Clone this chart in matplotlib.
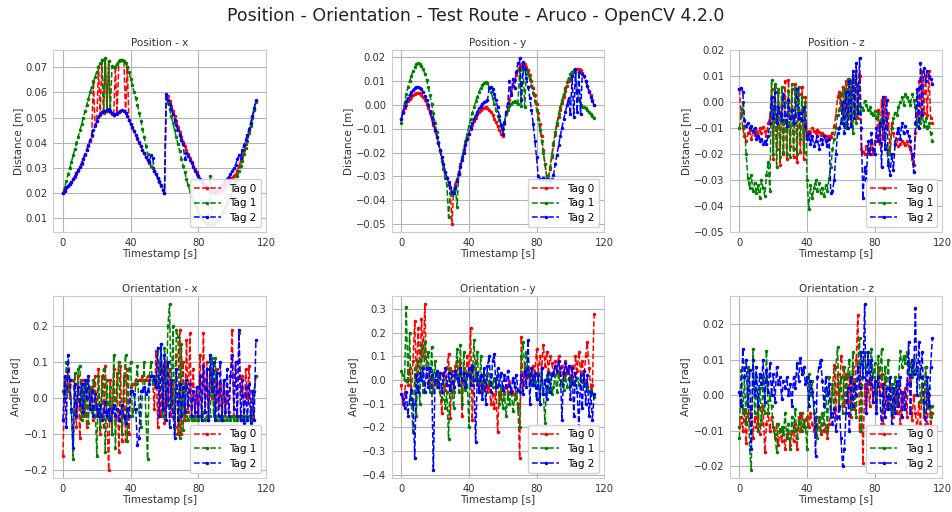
import numpy as np
import matplotlib.pyplot as plt

# one sample per second of the test route
timestamps = np.arange(0, 115)
tags = ["Tag 0", "Tag 1", "Tag 2"]
tag_colors = ["red", "green", "blue"]

# ---- position x [mm] ----
pos_x_tag0 = [
    20.0, 21.2, 22.0, 23.0, 23.8, 24.5, 25.5, 26.5, 27.8, 29.0,
    30.3, 31.8, 33.5, 35.3, 37.0, 38.8, 40.8, 42.8, 64.5, 46.8,
    48.6, 70.0, 51.0, 72.7, 52.0, 73.5, 52.6, 72.5, 52.2, 51.4,
    51.0, 70.3, 51.6, 72.3, 72.9, 73.0, 72.6, 52.0, 70.0, 49.0,
    47.3, 46.0, 44.6, 43.2, 41.6, 40.0, 38.6, 37.2, 35.8, 34.5,
    33.2, 32.0, 31.0, 30.0, 28.8, 27.5, 26.2, 24.6, 23.0, 21.4,
    20.0, 58.0, 58.5, 56.5, 54.5, 52.5, 50.5, 48.5, 46.5, 44.5,
    42.5, 40.5, 38.8, 37.0, 35.5, 34.0, 32.5, 31.0, 29.5, 28.3,
    27.0, 25.8, 24.7, 23.7, 22.8, 22.0, 21.3, 20.8, 20.4, 20.2,
    20.2, 20.3, 20.6, 21.0, 21.5, 22.0, 22.7, 23.5, 24.3, 25.2,
    26.2, 27.0, 27.8, 29.0, 30.8, 32.8, 35.0, 37.3, 39.7, 42.2,
    44.8, 47.5, 50.3, 53.2, 56.5]
pos_x_tag1 = [
    20.0, 22.5, 25.0, 27.5, 30.0, 32.5, 35.0, 37.5, 40.0, 42.5,
    45.0, 47.5, 50.0, 52.5, 55.0, 57.5, 60.0, 62.2, 64.3, 66.3,
    68.2, 70.0, 71.5, 72.7, 52.4, 73.5, 52.8, 72.5, 52.5, 70.5,
    70.0, 70.3, 71.3, 72.3, 72.9, 73.0, 72.6, 71.6, 70.0, 68.0,
    65.5, 63.0, 60.3, 57.8, 55.0, 52.0, 48.8, 45.5, 42.2, 38.8,
    35.5, 32.8, 31.0, 30.0, 28.8, 27.5, 26.0, 24.5, 23.0, 21.5,
    20.3, 58.5, 56.0, 53.3, 50.6, 47.8, 45.0, 42.2, 39.4, 36.6,
    33.8, 31.0, 28.3, 25.7, 23.2, 21.0, 19.0, 17.2, 15.5, 14.0,
    12.6, 11.4, 10.3, 9.4, 8.7, 8.2, 7.9, 27.0, 7.8, 8.0,
    8.4, 9.0, 9.8, 10.8, 12.0, 13.3, 14.7, 16.2, 17.8, 19.5,
    21.2, 23.0, 24.8, 26.7, 28.7, 30.8, 33.0, 35.5, 38.0, 40.8,
    43.8, 46.8, 49.8, 53.0, 56.3]
pos_x_tag2 = [
    20.0, 21.0, 22.3, 23.0, 23.6, 24.4, 25.6, 26.8, 28.0, 29.3,
    30.3, 32.0, 33.8, 35.5, 37.2, 39.0, 41.0, 43.0, 45.0, 47.0,
    48.8, 50.3, 51.4, 52.2, 52.5, 52.6, 53.2, 53.5, 52.6, 51.8,
    51.0, 51.3, 51.8, 52.3, 52.8, 53.0, 52.6, 52.0, 50.8, 49.2,
    47.5, 46.2, 44.8, 43.3, 41.8, 40.2, 38.8, 37.3, 35.8, 34.5,
    33.2, 32.5, 35.0, 34.2, 28.8, 27.6, 26.2, 24.8, 23.2, 21.5,
    20.0, 59.5, 57.2, 55.5, 53.5, 51.5, 49.2, 47.0, 45.0, 43.0,
    41.0, 39.5, 33.5, 35.8, 34.8, 33.4, 32.0, 30.6, 29.0, 27.8,
    26.7, 25.5, 24.5, 23.5, 22.8, 22.2, 21.7, 21.3, 21.0, 21.0,
    21.2, 21.5, 22.0, 22.6, 23.3, 24.0, 24.8, 25.8, 26.5, 27.5,
    28.7, 30.0, 31.2, 33.5, 35.0, 34.2, 37.3, 39.2, 41.2, 43.3,
    45.5, 48.0, 50.8, 53.8, 57.0]

# ---- position y [mm] ----
pos_y_tag0 = [
    -6.0, -3.5, -1.5, 0.0, 1.5, 2.5, 3.3, 4.0, 4.5, 4.8,
    5.0, 4.8, 4.2, 3.2, 2.0, 0.5, -1.5, -3.5, -6.0, -8.5,
    -11.0, -13.5, -16.0, -19.0, -22.0, -25.0, -28.0, -30.5, -33.0, -35.0,
    -50.0, -36.0, -33.0, -31.0, -28.0, -25.0, -22.0, -19.0, -16.5, -14.0,
    -12.0, -10.0, -8.3, -6.8, -5.3, -4.0, -3.0, -2.2, -1.5, -1.1,
    -1.0, -1.3, -2.0, -3.0, -4.3, -5.8, -7.3, -9.0, -10.5, -12.0,
    -13.0, -8.0, -4.0, -1.0, 2.0, 5.0, 8.0, 10.5, 12.5, 14.5,
    16.0, 17.0, 17.3, 17.0, 16.0, 14.5, 12.5, 10.0, 7.0, 4.0,
    0.5, -3.5, -8.0, -13.0, -19.0, -25.0, -30.0, -31.0, -27.0, -22.0,
    -17.0, -12.5, -8.5, -5.0, -2.0, 1.0, 3.5, 6.0, 8.0, 10.0,
    11.5, 12.8, 13.8, 14.5, 15.0, 15.0, 14.5, 13.5, 12.0, 10.0,
    8.0, 6.0, 4.0, 2.0, 0.0]
pos_y_tag1 = [
    -7.5, -3.0, 1.0, 4.5, 7.5, 10.0, 12.3, 14.3, 15.8, 17.0,
    17.5, 17.3, 16.5, 15.0, 13.0, 10.5, 7.5, 4.0, 0.5, -3.5,
    -7.5, -11.5, -15.5, -19.5, -23.5, -27.0, -30.5, -33.5, -47.0, -37.0,
    -38.0, -36.0, -34.0, -43.0, -29.0, -25.5, -22.0, -18.5, -15.0, -12.0,
    -9.0, -6.0, -3.3, -1.0, 1.5, 3.5, 5.5, 7.2, 8.5, 9.3,
    9.5, 9.0, 7.5, 5.5, 3.0, 0.5, -2.0, -4.5, -6.5, -8.5,
    -10.0, -7.0, -4.0, -2.0, -0.5, 0.5, 1.2, 1.5, 1.2, 0.5,
    14.5, -0.5, 16.0, -0.8, 15.0, 13.0, 11.0, 8.0, 5.0, 1.5,
    -2.0, -6.0, -10.5, -15.0, -20.0, -25.0, -30.0, -31.0, -26.0, -21.0,
    -16.0, -11.5, -7.5, -4.0, -1.0, 2.0, 4.5, 7.0, 9.5, 11.5,
    13.0, 14.0, 14.5, 14.0, 6.0, 2.0, 0.0, -1.0, -1.0, -1.5,
    -2.0, -3.0, -4.0, -4.8, -5.5]
pos_y_tag2 = [
    -6.0, -3.0, -0.5, 1.5, 3.0, 4.3, 5.4, 6.3, 7.0, 7.4,
    7.5, 7.2, 6.5, 5.3, 3.8, 2.0, 0.0, -2.5, -5.0, -7.8,
    -10.5, -13.3, -16.0, -19.0, -22.0, -25.0, -28.0, -30.5, -32.5, -34.5,
    -36.5, -37.0, -35.0, -32.0, -29.0, -26.0, -23.0, -20.0, -17.0, -14.5,
    -12.0, -9.8, -7.8, -6.0, -4.3, -2.8, -1.5, -0.5, 0.5, 1.3,
    1.8, 2.0, 7.0, 7.5, 6.5, 4.5, 2.0, -1.0, -4.5, -8.5,
    -12.0, -7.5, -3.0, 1.0, 10.0, 4.0, 11.0, 7.0, 14.0, 17.5,
    19.5, 2.0, 18.0, 15.0, 11.5, 7.5, 3.0, -2.0, -8.0, -15.0,
    -22.0, -30.0, -31.0, -31.0, -30.5, -31.0, -31.5, -31.0, -32.0, -31.0,
    -29.5, -25.0, -21.0, -17.0, -13.0, -9.5, -6.0, -3.0, 0.0, 3.0,
    -4.0, 12.0, -5.0, 15.0, -3.0, 14.0, -4.0, 13.0, 12.0, 10.0,
    8.0, 5.5, 3.5, 1.5, 0.0]

# ---- position z [mm] ----
pos_z_tag0 = [
    5.0, -4.0, -10.0, -13.0, -15.0, -12.0, -10.5, -14.0, -11.5, -12.5,
    -11.0, -13.5, -10.0, -12.0, -9.5, -11.0, -13.0, -8.0, -6.0, 5.0,
    -22.0, 6.0, -18.0, 4.0, -24.0, 2.0, -20.0, 8.0, -22.0, 8.5,
    -17.0, 5.0, -21.0, 7.0, -23.0, 3.0, -19.0, 6.0, -22.0, 2.0,
    -13.0, -11.0, -12.5, -10.0, -11.0, -12.0, -10.5, -11.5, -12.5, -12.0,
    -12.5, -13.0, -14.0, -13.0, -13.5, -12.0, -9.0, -5.0, 2.0, 4.0,
    -2.0, 6.0, -6.0, 8.0, -4.0, 9.0, -8.0, 10.0, -3.0, 12.0,
    -6.0, 10.0, -18.0, -19.0, -20.0, -17.0, -19.5, -18.0, -16.0, -20.0,
    -15.0, -13.5, -3.0, -16.0, 1.0, -14.0, 2.0, -10.0, -4.0, -20.0,
    -8.0, -12.0, -16.0, -14.0, -17.0, -16.0, -15.0, -15.5, -16.5, -15.0,
    -17.0, -18.0, -22.0, -24.0, -12.0, -5.0, 8.0, -6.0, 12.0, -4.0,
    10.0, -5.0, 12.0, -6.0, -8.0]
pos_z_tag1 = [
    -10.0, -5.0, 0.0, -9.0, -20.0, -29.0, -33.0, -28.0, -34.0, -31.0,
    -35.0, -32.0, -37.0, -30.0, -33.0, -36.0, -28.0, -23.0, -34.0, 8.5,
    -20.0, 7.0, -25.0, 5.0, -21.0, 6.0, -19.0, 0.0, -20.0, 4.5,
    -21.0, 7.0, -18.0, 5.5, -20.0, 6.0, -14.0, 2.0, -19.0, 0.0,
    -30.0, -41.0, -32.0, -37.0, -33.0, -30.0, -34.0, -31.0, -35.0, -33.0,
    -36.0, -32.0, -34.0, -29.0, -25.0, -18.0, -14.0, -10.0, -5.0, -3.0,
    3.0, -8.0, 5.0, -10.0, 9.0, -6.0, 8.0, -12.0, 10.0, -8.0,
    6.0, -4.0, -2.0, -3.0, 0.5, -1.0, -3.0, -2.0, -4.0, -5.0,
    -3.5, -6.0, -4.0, -9.0, -6.0, -8.0, -12.0, -18.0, -23.0, -20.0,
    -10.0, -6.0, -4.0, -5.0, -2.0, 0.0, 2.0, -1.0, 3.0, 2.0,
    0.5, -1.0, 3.0, 1.0, -2.0, -9.0, -6.0, -8.0, -5.0, -9.0,
    -6.0, -10.0, -8.0, -12.0, -15.0]
pos_z_tag2 = [
    5.0, 5.5, 4.0, -7.0, -9.0, -8.0, -10.0, -9.0, -11.0, -10.0,
    -14.0, -13.0, -15.0, -14.0, -16.0, -15.0, -16.0, -13.0, -8.0, 2.0,
    -6.0, 4.0, -8.0, -2.0, -4.0, -7.0, 3.0, -5.0, -9.0, 1.0,
    -6.0, -3.0, -8.0, -5.0, 5.0, -6.0, -4.0, -7.0, -2.0, -9.0,
    -14.0, -12.0, -16.0, -13.0, -17.0, -15.0, -13.0, -18.0, -14.0, -16.0,
    -13.0, -15.0, -17.0, -14.0, -35.0, -34.0, -30.0, -20.0, -12.0, -10.0,
    -8.0, 0.0, -12.0, 4.0, -10.0, 8.0, -9.0, 12.0, -6.0, 15.0,
    -4.0, 17.0, -10.0, -37.0, -25.0, -30.0, -15.0, -20.0, -12.0, -18.0,
    -20.0, -10.0, -15.0, -8.0, -25.0, 2.0, -18.0, 1.0, -24.0, -28.0,
    -20.0, -26.0, -16.0, -12.0, -10.0, -14.0, -8.0, -12.0, -9.0, -11.0,
    -13.0, -15.0, -20.0, -27.0, -8.0, 5.0, -10.0, 15.0, -5.0, 13.0,
    8.0, 12.0, 10.0, 9.0, 7.0]

# ---- orientation x [rad] ----
ori_x_tag0 = [
    -0.16, 0.05, 0.02, 0.08, 0.0, 0.05, 0.05, -0.02, -0.08, 0.06,
    -0.11, 0.05, -0.05, 0.04, -0.08, 0.05, -0.02, 0.03, -0.06, 0.06,
    -0.05, 0.08, -0.10, 0.06, -0.08, 0.09, -0.05, -0.20, 0.05, -0.10,
    0.08, -0.06, 0.07, -0.15, 0.09, -0.12, 0.06, -0.12, 0.08, -0.10,
    0.03, 0.04, 0.04, 0.05, 0.05, 0.05, 0.05, 0.06, 0.05, 0.05,
    0.06, 0.05, 0.06, 0.05, -0.03, 0.13, -0.08, 0.10, -0.05, 0.09,
    -0.07, 0.10, -0.02, 0.08, -0.05, 0.05, -0.08, 0.12, -0.10, 0.19,
    -0.10, 0.10, -0.06, 0.16, -0.04, 0.18, -0.06, 0.08, -0.05, 0.03,
    -0.06, 0.12, -0.05, 0.18, -0.04, 0.10, -0.06, 0.08, 0.0, 0.05,
    -0.05, 0.08, -0.02, 0.04, -0.06, 0.05, -0.05, 0.02, -0.04, 0.06,
    0.19, -0.05, 0.10, -0.06, 0.18, 0.02, 0.06, -0.05, 0.08, 0.0,
    0.09, -0.03, -0.06, 0.02, 0.06]
ori_x_tag1 = [
    0.02, 0.0, 0.10, 0.02, 0.05, -0.04, -0.17, 0.07, -0.05, 0.08,
    0.09, -0.06, 0.04, -0.05, 0.05, -0.07, 0.03, -0.04, 0.05, -0.02,
    -0.16, 0.06, -0.08, 0.02, 0.08, -0.15, 0.05, -0.06, 0.03, -0.10,
    0.12, -0.14, 0.04, 0.10, -0.06, -0.10, 0.05, 0.12, -0.12, 0.08,
    0.10, -0.05, -0.03, 0.04, 0.09, -0.04, -0.08, 0.02, 0.10, -0.05,
    -0.17, 0.06, 0.10, 0.04, 0.05, 0.06, 0.03, 0.08, 0.15, -0.05,
    0.14, -0.02, 0.20, 0.26, -0.02, 0.20, -0.10, 0.19, 0.17, -0.11,
    0.15, -0.09, 0.04, -0.05, -0.06, -0.05, -0.06, -0.05, -0.06, -0.05,
    -0.06, -0.05, -0.06, -0.04, -0.06, -0.05, -0.06, -0.05, 0.11, -0.05,
    0.11, -0.06, -0.05, -0.06, -0.05, -0.06, -0.04, -0.06, -0.05, -0.06,
    -0.05, -0.06, -0.05, -0.06, -0.05, -0.06, -0.05, -0.06, -0.05, -0.06,
    -0.05, -0.06, -0.04, 0.02, 0.06]
ori_x_tag2 = [
    -0.06, 0.06, -0.08, 0.12, 0.05, -0.03, -0.14, 0.04, -0.05, 0.03,
    -0.02, 0.04, -0.04, 0.05, 0.0, 0.06, -0.03, 0.02, -0.05, 0.01,
    -0.03, -0.05, -0.02, -0.06, -0.04, -0.01, -0.05, -0.03, -0.06, -0.04,
    -0.02, -0.05, -0.03, -0.06, -0.04, -0.02, -0.05, -0.07, -0.03, -0.05,
    0.02, 0.02, 0.01, -0.03, -0.13, -0.11, 0.02, 0.02, 0.03, 0.01,
    0.02, 0.04, 0.06, 0.06, 0.05, 0.03, 0.14, -0.05, 0.15, -0.03,
    0.12, -0.06, 0.10, -0.08, 0.05, -0.04, -0.11, 0.08, -0.06, 0.04,
    -0.05, 0.03, -0.04, 0.05, -0.02, 0.04, -0.05, 0.02, -0.04, 0.03,
    -0.05, 0.06, -0.06, 0.09, -0.04, 0.08, -0.06, 0.12, 0.02, 0.10,
    -0.06, 0.07, -0.05, 0.10, -0.06, 0.05, -0.04, 0.08, -0.05, 0.06,
    0.12, -0.03, 0.10, -0.05, 0.19, -0.06, 0.05, -0.07, 0.03, -0.06,
    0.04, -0.07, 0.02, -0.06, 0.16]

# ---- orientation y [rad] ----
ori_y_tag0 = [
    -0.02, -0.10, -0.05, 0.0, -0.02, 0.05, -0.05, 0.08, 0.25, 0.0,
    0.22, 0.05, 0.26, 0.10, 0.32, 0.02, 0.05, -0.03, 0.02, -0.05,
    0.0, -0.03, 0.02, -0.05, -0.14, 0.03, -0.04, 0.05, 0.11, -0.16,
    0.04, -0.05, 0.06, 0.08, -0.02, 0.07, -0.15, 0.05, -0.03, 0.10,
    0.02, 0.22, -0.17, 0.05, 0.08, -0.02, 0.0, -0.05, 0.02, -0.04,
    0.0, -0.05, -0.02, -0.10, -0.06, -0.12, -0.03, -0.22, -0.05, -0.08,
    -0.03, -0.06, -0.02, -0.05, -0.01, -0.04, -0.06, -0.03, -0.05, -0.10,
    -0.33, 0.18, -0.02, 0.05, 0.01, 0.04, 0.0, 0.03, 0.06, 0.02,
    0.13, 0.03, 0.10, 0.05, 0.15, 0.06, 0.12, 0.04, 0.10, 0.07,
    0.02, 0.08, 0.03, 0.10, 0.02, 0.06, 0.0, 0.08, 0.03, 0.05,
    0.0, 0.06, -0.02, 0.10, 0.04, 0.12, 0.03, 0.08, 0.0, 0.10,
    0.16, 0.05, -0.03, -0.02, 0.28]
ori_y_tag1 = [
    0.04, 0.02, 0.0, 0.31, 0.0, 0.20, -0.10, -0.22, 0.05, -0.15,
    0.08, -0.10, 0.15, -0.05, 0.16, 0.05, 0.12, -0.05, 0.14, -0.05,
    0.08, -0.02, 0.03, -0.05, -0.08, 0.0, -0.12, -0.05, -0.25, 0.05,
    -0.05, -0.12, 0.02, 0.13, -0.05, 0.15, -0.10, 0.12, -0.04, 0.03,
    -0.20, 0.05, 0.0, 0.17, 0.0, 0.12, -0.05, 0.10, -0.05, 0.02,
    -0.02, 0.03, -0.01, 0.02, -0.03, 0.01, -0.02, 0.02, -0.10, -0.03,
    -0.12, -0.05, -0.15, -0.06, -0.10, -0.04, -0.13, -0.08, -0.05, -0.12,
    -0.20, 0.10, 0.16, 0.05, 0.12, 0.02, 0.03, -0.02, 0.02, -0.01,
    -0.08, 0.03, -0.10, 0.05, -0.06, -0.18, 0.02, -0.05, 0.03, -0.06,
    -0.03, 0.02, -0.05, 0.03, -0.02, 0.0, -0.04, 0.02, -0.03, 0.01,
    -0.02, 0.0, -0.01, -0.02, 0.01, -0.02, 0.0, -0.01, -0.02, -0.01,
    -0.03, -0.05, -0.04, -0.06, -0.07]
ori_y_tag2 = [
    -0.06, -0.08, -0.12, -0.05, -0.15, -0.08, -0.04, -0.10, -0.33, 0.02,
    -0.05, 0.03, 0.0, 0.05, -0.05, 0.05, -0.03, 0.05, 0.02, -0.38,
    0.0, 0.04, -0.03, 0.03, -0.05, 0.02, 0.05, -0.02, 0.03, -0.04,
    0.02, -0.03, 0.04, 0.01, -0.02, 0.05, 0.0, 0.03, -0.03, 0.02,
    0.05, -0.02, 0.06, 0.0, -0.26, 0.03, -0.05, 0.02, -0.08, 0.05,
    -0.10, 0.06, 0.10, -0.05, 0.08, 0.11, -0.03, 0.05, -0.02, 0.03,
    -0.04, 0.02, -0.03, 0.04, -0.02, -0.05, 0.01, -0.03, 0.02, -0.04,
    -0.05, 0.02, -0.06, 0.04, -0.03, 0.17, -0.10, 0.05, -0.02, 0.03,
    -0.08, 0.02, -0.10, 0.05, -0.06, 0.0, -0.08, 0.03, -0.05, 0.02,
    0.03, 0.06, 0.04, 0.08, 0.05, -0.17, 0.03, 0.07, 0.04, 0.06,
    -0.08, 0.05, -0.15, 0.03, -0.05, -0.20, 0.02, -0.12, 0.04, -0.10,
    0.02, -0.15, -0.05, -0.17, -0.06]

# ---- orientation z [mrad] ----
ori_z_tag0 = [
    -9.0, -6.0, -10.0, -4.0, -13.5, -5.0, -8.0, -3.0, -12.0, -6.0,
    -9.0, -4.0, -11.0, -7.0, -3.0, -16.0, -8.0, -5.0, -10.0, -6.0,
    -9.0, -12.0, -8.0, -14.0, -10.0, -13.0, -9.0, -15.0, -11.0, -12.0,
    -14.0, -10.0, -13.0, -8.0, -15.0, -6.0, -10.0, -5.0, -9.0, -7.0,
    -6.0, -9.0, -5.0, -8.0, -10.0, -6.0, -9.0, -7.0, -11.0, -8.0,
    -10.0, -9.0, -12.0, -8.0, -5.0, 2.0, 8.5, -6.0, 6.0, -4.0,
    11.0, 8.0, -3.0, 6.0, -2.0, 5.0, -6.0, 8.0, -4.0, 10.0,
    22.5, -10.0, 5.0, -19.0, 3.0, -5.0, 4.0, -3.0, 5.0, -2.0,
    2.0, -3.0, 8.0, 0.0, 6.0, -8.0, 5.0, -4.0, -1.0, 3.0,
    -3.0, -6.0, 2.0, -5.0, 3.0, -8.0, 1.0, -4.0, 2.0, -6.0,
    9.0, 4.0, -7.0, 0.0, -5.0, -10.0, -2.0, -8.0, 3.0, -6.0,
    8.0, -8.0, 0.0, -9.0, -5.0]
ori_z_tag1 = [
    -12.0, 7.0, -5.0, 5.0, -8.0, 8.0, -15.0, -21.0, 13.0, -5.0,
    5.0, -10.0, 2.0, -8.0, 5.0, -5.0, 12.5, -5.0, 0.0, -3.0,
    -9.0, -11.0, -16.0, -8.0, -10.0, -9.0, -11.0, -5.0, -12.0, -8.0,
    -15.0, -6.0, -10.0, -4.0, -12.0, -8.0, -5.0, -10.0, -7.0, -9.0,
    -15.0, 6.0, 0.0, 4.0, -5.0, -8.0, -12.0, -6.0, -10.0, -5.0,
    -8.0, 2.0, -10.0, 5.0, -6.0, 3.0, -4.0, 8.0, 13.5, -3.0,
    5.0, -5.0, 8.0, -2.0, 6.0, 10.0, -4.0, 12.0, 2.0, -6.0,
    9.0, 16.0, -10.0, 8.0, 12.0, 6.0, 10.0, 8.0, 13.0, 5.0,
    9.0, -5.0, 11.0, 5.0, 13.0, -3.0, 8.0, 2.0, 10.0, -4.0,
    3.0, -5.0, 5.0, -2.0, 4.0, 12.5, 8.0, 11.0, 9.0, 12.0,
    6.0, 9.0, 5.0, 10.0, 7.0, 8.0, 6.0, -2.0, 5.0, -5.0,
    8.0, -3.0, 2.0, -6.0, -3.0]
ori_z_tag2 = [
    1.0, -3.0, 13.0, 5.0, 10.0, -3.0, 7.0, -15.0, 10.0, 0.0,
    8.0, -3.0, 6.0, 3.0, 10.0, -2.0, 7.0, 1.0, 9.0, 0.0,
    6.0, -2.0, 8.0, 3.0, 5.0, -1.0, 4.0, 2.0, 5.0, 0.0,
    3.0, -3.0, 5.0, 2.0, 9.0, 4.0, 10.5, 6.0, 8.0, 3.0,
    5.0, -3.0, 4.0, 1.0, -2.0, -17.0, 5.0, 8.0, 10.0, 4.0,
    -3.0, 5.0, 0.0, 3.0, -5.0, -8.0, -4.0, -10.0, -6.0, -3.0,
    -12.0, -20.0, -15.0, -5.0, 2.0, -10.0, 5.0, -3.0, 3.0, 0.0,
    8.0, 2.0, 12.0, 5.0, 25.5, -5.0, 12.0, 3.0, 10.0, -2.0,
    4.0, -5.0, 5.0, 0.0, -10.0, 3.0, -6.0, 2.0, -4.0, 5.0,
    -8.0, 2.0, -5.0, 4.0, -3.0, 5.0, -6.0, 1.0, -4.0, 3.0,
    15.0, -5.0, 10.0, 6.0, 24.5, 0.0, 15.0, 5.0, 12.0, -2.0,
    -10.0, 5.0, -3.0, 8.0, 16.0]


def plot_panel(ax, title, ylabel, series, scale=1.0):
    for values, color, tag in zip(series, tag_colors, tags):
        ax.plot(timestamps, np.array(values) * scale, ".--", color=color,
                markersize=3, linewidth=1.1, label=tag)
    ax.set_title(title, fontsize=7.5, pad=3, color="#333333")
    ax.set_xlabel("Timestamp [s]", fontsize=7.5, labelpad=1, color="#333333")
    ax.set_ylabel(ylabel, fontsize=7.5, labelpad=2, color="#333333")
    ax.set_xticks([0, 40, 80, 120])
    ax.tick_params(labelsize=7.2, length=0, pad=4, labelcolor="#333333")
    ax.grid(True, color="#b4b4b4", linewidth=0.8)
    for spine in ax.spines.values():
        spine.set_color("#cccccc")
    ax.legend(loc="lower right", fontsize=7.5, handlelength=2.6,
              borderpad=0.4, labelspacing=0.45, framealpha=0.9)


fig, axes = plt.subplots(2, 3, figsize=(9.52, 5.12), dpi=100)
plt.subplots_adjust(left=0.056, right=0.99, top=0.902, bottom=0.066,
                    wspace=0.59, hspace=0.35)

plot_panel(axes[0, 0], "Position - x", "Distance [m]",
           [pos_x_tag0, pos_x_tag1, pos_x_tag2], 0.001)
plot_panel(axes[0, 1], "Position - y", "Distance [m]",
           [pos_y_tag0, pos_y_tag1, pos_y_tag2], 0.001)
plot_panel(axes[0, 2], "Position - z", "Distance [m]",
           [pos_z_tag0, pos_z_tag1, pos_z_tag2], 0.001)
axes[0, 2].set_ylim(-0.05, 0.02)
plot_panel(axes[1, 0], "Orientation - x", "Angle [rad]",
           [ori_x_tag0, ori_x_tag1, ori_x_tag2])
plot_panel(axes[1, 1], "Orientation - y", "Angle [rad]",
           [ori_y_tag0, ori_y_tag1, ori_y_tag2])
plot_panel(axes[1, 2], "Orientation - z", "Angle [rad]",
           [ori_z_tag0, ori_z_tag1, ori_z_tag2], 0.001)

fig.suptitle("Position - Orientation - Test Route - Aruco - OpenCV 4.2.0",
             fontsize=12.5, y=0.987, color="#222222")

plt.savefig("out.png", dpi=100)
